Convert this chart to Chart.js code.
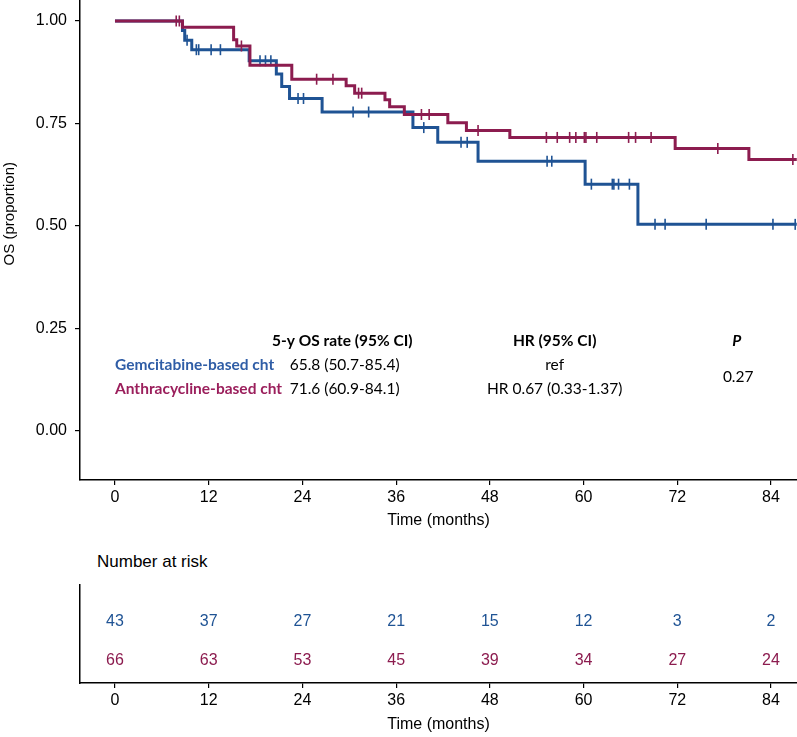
<!DOCTYPE html>
<html>
<head>
<meta charset="utf-8">
<script src="https://cdn.jsdelivr.net/npm/chart.js@4.4.1/dist/chart.umd.min.js"></script>
<style>
  body { margin: 0; background: #fff; }
  #wrap { position: relative; width: 797px; height: 737px; overflow: hidden; }
  #km { position: absolute; left: 0; top: 0; }
  #risk { position: absolute; left: 0; top: 540px; }
  #riskTitle { position: absolute; left: 97px; top: 552px; font: 17px 'Liberation Sans', Arial, sans-serif; color: #000; }
</style>
</head>
<body>
<div id="wrap">
  <canvas id="km" width="797" height="533"></canvas>
  <div id="riskTitle">Number at risk</div>
  <canvas id="risk" width="797" height="197"></canvas>
</div>
<script>
// KM steps: time (months) and survival after each drop
var gemTimes = [0, 8.64, 8.93, 9.83, 17.18, 20.66, 21.35, 22.35, 26.52, 38.15, 41.33, 46.49, 60.2, 66.96, 87.3];
var gemSurv  = [1, 0.977, 0.953, 0.930, 0.903, 0.871, 0.840, 0.811, 0.778, 0.740, 0.704, 0.658, 0.602, 0.504, 0.504];
var gemCensor = [9.23, 10.42, 10.72, 12.31, 13.5, 18.57, 19.27, 19.96, 23.44, 24.14, 30.49, 32.48, 39.54, 44.31, 45.1,
                 55.33, 55.93, 61.0, 63.68, 63.88, 64.48, 65.87, 69.15, 70.44, 75.7, 84.25, 87.1];

var antTimes = [0, 8.64, 15.19, 15.59, 17.28, 22.64, 29.6, 30.69, 34.57, 35.17, 37.05, 42.62, 45.0, 50.56, 71.73, 81.17, 87.3];
var antSurv  = [1, 0.985, 0.954, 0.939, 0.892, 0.858, 0.842, 0.824, 0.808, 0.791, 0.772, 0.752, 0.733, 0.716, 0.689, 0.662, 0.662];
var antCensor = [7.84, 8.24, 16.19, 25.82, 27.91, 31.19, 31.59, 39.24, 40.23, 46.49, 55.24, 56.63, 58.22, 59.01, 60.1, 60.3,
                 61.69, 65.77, 66.66, 68.65, 77.19, 86.8];

var monthTicks = [0, 12, 24, 36, 48, 60, 72, 84];
var survTicks = [0, 0.25, 0.5, 0.75, 1];

// number at risk at each month tick
var gemRisk = [43, 37, 27, 21, 15, 12, 3, 2];
var antRisk = [66, 63, 53, 45, 39, 34, 27, 24];

var gemColor = '#1f5394';
var antColor = '#8c1c4f';
var gemText = '#2f5da6';
var antText = '#9b1f5c';

var axisFont = "'Liberation Sans', Arial, sans-serif";
var noteFont = "Lato, 'Open Sans', sans-serif";

function toPoints(times, surv) {
  return times.map(function (t, i) { return { x: t, y: surv[i] }; });
}
function survAt(times, surv, t) {
  var s = surv[0];
  for (var i = 0; i < times.length; i++) { if (times[i] <= t) s = surv[i]; }
  return s;
}
function censorPoints(cens, times, surv) {
  return cens.map(function (t) { return { x: t, y: survAt(times, surv, t) }; });
}

function xAxis(h) {
  return {
    type: 'linear', min: -4.48, max: 87.33,
    afterBuildTicks: function (s) { s.ticks = monthTicks.map(function (v) { return { value: v }; }); },
    afterFit: function (s) { s.height = h; },
    grid: { drawOnChartArea: false, drawTicks: true, tickLength: 5, color: '#000', lineWidth: 1.2 },
    border: { display: true, color: '#000', width: 1.5 },
    ticks: { color: '#000', font: { size: 16, family: axisFont }, padding: 3, maxRotation: 0, autoSkip: false },
    title: { display: true, text: 'Time (months)', color: '#000', font: { size: 16, family: axisFont }, padding: { top: 0, bottom: 3 } }
  };
}

// text table inside the plot, plus the y title
var annotate = {
  id: 'annotate',
  afterDatasetsDraw: function (chart) {
    var ctx = chart.ctx, xs = chart.scales.x, ys = chart.scales.y;
    ctx.save();
    ctx.textBaseline = 'middle';
    ctx.textAlign = 'center';
    ctx.fillStyle = '#000';
    ctx.font = 'bold 15.5px ' + noteFont;
    ctx.fillText('5-y OS rate (95% CI)', xs.getPixelForValue(29.1), ys.getPixelForValue(0.22));
    ctx.fillText('HR (95% CI)', xs.getPixelForValue(56.3), ys.getPixelForValue(0.22));
    ctx.font = 'italic bold 15.5px ' + noteFont;
    ctx.fillText('P', xs.getPixelForValue(79.6), ys.getPixelForValue(0.22));
    ctx.font = '15.5px ' + noteFont;
    ctx.fillText('65.8 (50.7-85.4)', xs.getPixelForValue(29.4), ys.getPixelForValue(0.161));
    ctx.fillText('71.6 (60.9-84.1)', xs.getPixelForValue(29.4), ys.getPixelForValue(0.102));
    ctx.fillText('ref', xs.getPixelForValue(56.3), ys.getPixelForValue(0.161));
    ctx.fillText('HR 0.67 (0.33-1.37)', xs.getPixelForValue(56.3), ys.getPixelForValue(0.102));
    ctx.fillText('0.27', xs.getPixelForValue(79.8), ys.getPixelForValue(0.132));
    ctx.textAlign = 'left';
    ctx.font = 'bold 15.5px ' + noteFont;
    ctx.fillStyle = gemText;
    ctx.fillText('Gemcitabine-based cht', xs.getPixelForValue(0), ys.getPixelForValue(0.161));
    ctx.fillStyle = antText;
    ctx.fillText('Anthracycline-based cht', xs.getPixelForValue(0), ys.getPixelForValue(0.102));
    // y axis title
    ctx.fillStyle = '#000';
    ctx.textAlign = 'center';
    ctx.font = '15px ' + axisFont;
    ctx.translate(10, ys.getPixelForValue(0.53));
    ctx.rotate(-Math.PI / 2);
    ctx.fillText('OS (proportion)', 0, 0);
    ctx.restore();
  }
};

new Chart(document.getElementById('km'), {
  type: 'line',
  data: {
    datasets: [
      { data: toPoints(antTimes, antSurv), borderColor: antColor, borderWidth: 3, stepped: true, pointRadius: 0, fill: false, order: 0 },
      { type: 'scatter', data: censorPoints(antCensor, antTimes, antSurv), pointStyle: 'line', rotation: 90, radius: 5.5,
        borderColor: antColor, backgroundColor: antColor, borderWidth: 1.6, order: 0, clip: false },
      { data: toPoints(gemTimes, gemSurv), borderColor: gemColor, borderWidth: 3, stepped: true, pointRadius: 0, fill: false, order: 1 },
      { type: 'scatter', data: censorPoints(gemCensor, gemTimes, gemSurv), pointStyle: 'line', rotation: 90, radius: 5.5,
        borderColor: gemColor, backgroundColor: gemColor, borderWidth: 1.6, order: 1, clip: false }
    ]
  },
  options: {
    responsive: false, animation: false, devicePixelRatio: 1,
    layout: { padding: 0, autoPadding: false },
    plugins: { legend: { display: false }, tooltip: { enabled: false } },
    scales: {
      x: xAxis(53),
      y: {
        min: -0.1195, max: 1.0512,
        afterBuildTicks: function (s) { s.ticks = survTicks.map(function (v) { return { value: v }; }); },
        afterFit: function (s) { s.width = 80; s.paddingTop = 0; s.paddingBottom = 0; },
        grid: { drawOnChartArea: false, drawTicks: true, tickLength: 5, color: '#000', lineWidth: 1.2 },
        border: { display: true, color: '#000', width: 1.5 },
        ticks: { color: '#000', font: { size: 16, family: axisFont }, padding: 8,
                 callback: function (v) { return v.toFixed(2); } }
      }
    }
  },
  plugins: [annotate]
});

// risk table: numbers placed through the chart's own scales
var riskRows = [
  { counts: gemRisk, row: 2, color: gemColor },
  { counts: antRisk, row: 1, color: antColor }
];
var riskNumbers = {
  id: 'riskNumbers',
  afterDraw: function (chart) {
    var ctx = chart.ctx, xs = chart.scales.x, ys = chart.scales.y;
    ctx.save();
    ctx.textAlign = 'center';
    ctx.textBaseline = 'middle';
    ctx.font = '16px ' + axisFont;
    riskRows.forEach(function (r) {
      ctx.fillStyle = r.color;
      r.counts.forEach(function (n, i) {
        ctx.fillText(String(n), xs.getPixelForValue(monthTicks[i]), ys.getPixelForValue(r.row));
      });
    });
    ctx.restore();
  }
};

new Chart(document.getElementById('risk'), {
  type: 'scatter',
  data: { datasets: [{ data: [] }] },
  options: {
    responsive: false, animation: false, devicePixelRatio: 1,
    layout: { padding: { top: 45 }, autoPadding: false },
    plugins: { legend: { display: false }, tooltip: { enabled: false } },
    scales: {
      x: xAxis(54),
      y: {
        min: 0.4, max: 2.97,
        afterFit: function (s) { s.width = 80; },
        grid: { drawOnChartArea: false, drawTicks: false },
        border: { display: true, color: '#000', width: 1.5 },
        ticks: { display: false }
      }
    }
  },
  plugins: [riskNumbers]
});
</script>
</body>
</html>
